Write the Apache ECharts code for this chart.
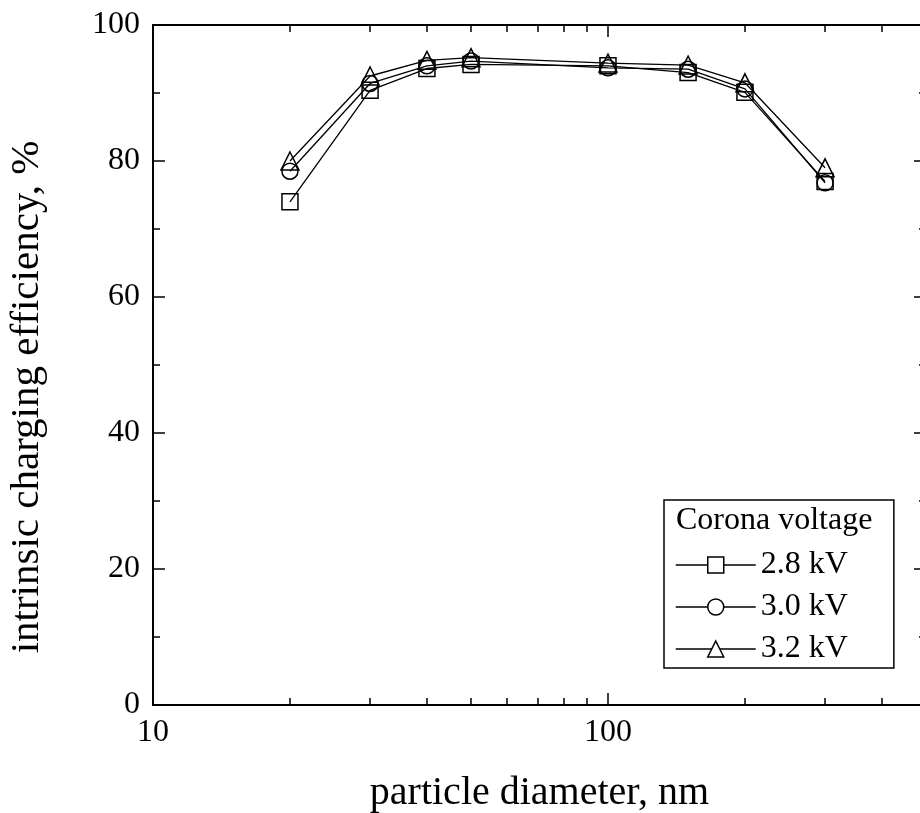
<!DOCTYPE html>
<html lang="en">
<head>
  <meta charset="UTF-8">
  <title>intrinsic charging efficiency</title>
  <script src="https://cdn.jsdelivr.net/npm/echarts@6/dist/echarts.min.js"></script>
  <style>
    html, body { margin: 0; padding: 0; background: #fff; }
    #c1 { width: 920px; height: 813px; }
  </style>
</head>
<body>
<div id="c1"></div>
<script>
  // particle diameter, nm
  var diameters = [20, 30, 40, 50, 100, 150, 200, 300];
  // intrinsic charging efficiency, %
  var eff28 = [74.0, 90.4, 93.6, 94.2, 94.0, 93.0, 90.1, 77.0];
  var eff30 = [78.5, 91.4, 94.0, 94.7, 93.7, 93.5, 90.6, 76.8];
  var eff32 = [80.0, 92.5, 94.8, 95.2, 94.4, 94.1, 91.5, 79.0];
  var seriesNames = ['2.8 kV', '3.0 kV', '3.2 kV'];
  var xMajor = [10, 100];
  var xMinor = [20, 30, 40, 50, 60, 70, 80, 90, 200, 300, 400];

  var font = 'Liberation Serif';

  function pairs(ys) {
    return diameters.map(function (d, i) { return [d, ys[i]]; });
  }

  function makeSeries(name, ys, symbol, size) {
    return {
      name: name,
      type: 'line',
      data: pairs(ys),
      symbol: symbol,
      symbolSize: size,
      lineStyle: { color: '#000', width: 1.3 },
      itemStyle: { color: 'rgba(0,0,0,0)', borderColor: '#000', borderWidth: 1.5 },
      emphasis: { disabled: true },
      animation: false
    };
  }

  function xAxisOf(pos, ticks, len, showLine, showLabel) {
    return {
      type: 'log',
      logBase: 10,
      min: 10,
      max: 500,
      position: pos,
      axisLine: { show: showLine, onZero: false, lineStyle: { color: '#000', width: 2 } },
      axisTick: { show: true, inside: true, length: len, customValues: ticks, lineStyle: { color: '#000', width: 1.5 } },
      axisLabel: showLabel ? {
        show: true, customValues: xMajor, margin: 12,
        fontFamily: font, fontSize: 32, color: '#000'
      } : { show: false },
      splitLine: { show: false }
    };
  }

  var chartDom = document.getElementById('c1');
  var myChart = echarts.init(chartDom);
  var option;

  var xBottom = xAxisOf('bottom', xMajor, 12, true, true);
  xBottom.name = 'particle diameter, nm';
  xBottom.nameLocation = 'middle';
  xBottom.nameGap = 68;
  xBottom.nameTextStyle = { fontFamily: font, fontSize: 40, color: '#000' };

  option = {
    backgroundColor: '#fff',
    grid: {
      left: 153,
      right: -6,
      top: 25,
      bottom: 108,
      containLabel: false,
      outerBoundsMode: 'none'
    },
    title: {
      text: 'Corona voltage',
      left: 676,
      top: 505,
      padding: 0,
      textStyle: { fontFamily: font, fontSize: 32, fontWeight: 'normal', color: '#000' }
    },
    legend: {
      orient: 'vertical',
      left: 664,
      top: 500,
      padding: [47, 46, 1, 11],
      itemGap: 6,
      itemWidth: 80,
      itemHeight: 20,
      borderColor: '#000',
      borderWidth: 1.5,
      data: seriesNames,
      itemStyle: { color: '#fff', borderColor: '#000', borderWidth: 1.5 },
      lineStyle: { color: '#000', width: 1.5 },
      textStyle: { fontFamily: font, fontSize: 32, color: '#000', lineHeight: 36 }
    },
    xAxis: [
      xBottom,
      xAxisOf('bottom', xMinor, 7, false, false),
      xAxisOf('top', xMajor, 12, true, false),
      xAxisOf('top', xMinor, 7, false, false)
    ],
    yAxis: [
      {
        type: 'value',
        min: 0,
        max: 100,
        interval: 20,
        position: 'left',
        name: 'intrinsic charging efficiency, %',
        nameLocation: 'middle',
        nameGap: 105,
        nameTextStyle: { fontFamily: font, fontSize: 41, color: '#000', padding: [0, 64, 0, 0] },
        axisLine: { show: true, onZero: false, lineStyle: { color: '#000', width: 2 } },
        axisTick: { inside: true, length: 12, lineStyle: { color: '#000', width: 1.5 } },
        minorTick: { show: true, splitNumber: 2, length: 7, lineStyle: { color: '#000', width: 1.5 } },
        axisLabel: { margin: 13, fontFamily: font, fontSize: 32, color: '#000' },
        splitLine: { show: false }
      },
      {
        type: 'value',
        min: 0,
        max: 100,
        interval: 20,
        position: 'right',
        axisLine: { show: true, onZero: false, lineStyle: { color: '#000', width: 2 } },
        axisTick: { inside: true, length: 12, lineStyle: { color: '#000', width: 1.5 } },
        minorTick: { show: true, splitNumber: 2, length: 7, lineStyle: { color: '#000', width: 1.5 } },
        axisLabel: { show: false },
        splitLine: { show: false }
      }
    ],
    series: [
      makeSeries(seriesNames[0], eff28, 'rect', 16),
      makeSeries(seriesNames[1], eff30, 'circle', 16),
      makeSeries(seriesNames[2], eff32, 'triangle', 18)
    ]
  };

  option && myChart.setOption(option);
</script>
</body>
</html>
